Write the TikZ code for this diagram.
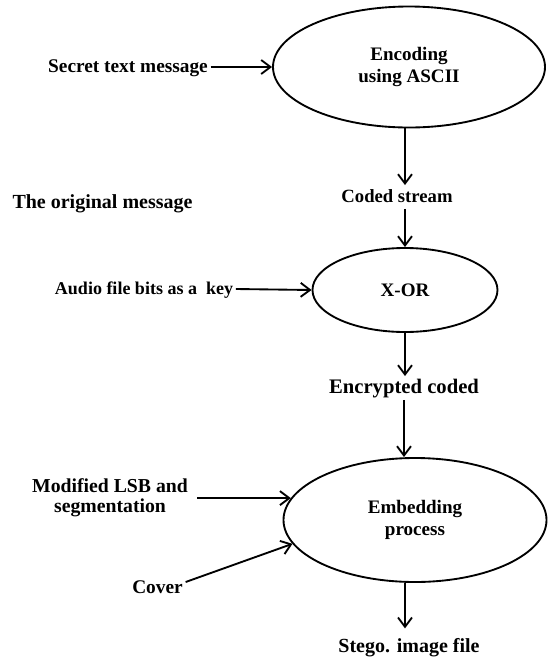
\documentclass[tikz,border=0pt]{standalone}
\usepackage{fontspec}
\setmainfont{Liberation Serif}
\usetikzlibrary{shapes.geometric,arrows.meta}
\begin{document}
\begin{tikzpicture}[x=0.75pt,y=-0.75pt,
  proc/.style={ellipse,draw,line width=1.4pt,inner sep=0pt,align=center,
    font=\bfseries\fontsize{14.3}{16.5}\selectfont},
  lbl/.style={inner sep=2pt,text height=10.5pt,text depth=3pt},
  arr/.style={line width=1.4pt,-{Straight Barb[length=7pt,width=10.5pt]}},
]
\useasboundingbox (0,0) rectangle (549,658);

% processing steps
\node[proc,minimum width=204pt,minimum height=90.75pt] (enc) at (409,67) {Encoding\\using ASCII};
\node[proc,minimum width=138.75pt,minimum height=63pt] (xor) at (405,290) {X-OR};
\node[proc,minimum width=197.25pt,minimum height=93pt] (emb) at (415,520) {Embedding\\process};

% labels
\node[lbl,font=\bfseries\fontsize{14.5}{14.5}\selectfont] (secret) at (128,67) {Secret text message};
\node[lbl,font=\bfseries\fontsize{15}{15}\selectfont] (orig) at (102.5,203) {The original message};
\node[lbl,font=\bfseries\fontsize{14}{14}\selectfont] (coded) at (397,197) {Coded stream};
\node[lbl,font=\bfseries\fontsize{13.5}{13.5}\selectfont] (audio) at (144,289) {Audio file bits as a\ \ key};
\node[lbl,font=\bfseries\fontsize{15.5}{15.5}\selectfont] (encr) at (404,388) {Encrypted coded};
\node[inner sep=2pt,align=center,font=\bfseries\fontsize{14.8}{15}\selectfont] (lsb) at (110,498) {Modified LSB and\\segmentation};
\node[lbl,font=\bfseries\fontsize{14.5}{14.5}\selectfont] (cover) at (157.5,588) {Cover};
\node[lbl,font=\bfseries\fontsize{15}{15}\selectfont] (stego) at (409,647) {Stego. image file};

% connectors
\draw[arr] (secret.east) -- (enc.west);
\draw[arr] ([xshift=-3pt]enc.south) -- ([xshift=-3pt]enc.south |- coded.north);
\draw[arr] (xor.north |- coded.south) -- (xor.north);
\draw[arr] (audio.east) -- (xor.west);
\draw[arr] (xor.south) -- (xor.south |- encr.north);
\draw[arr] (encr.south) -- (encr.south |- emb.north);
\draw[arr,shorten <=5pt] (lsb.east |- emb.170) -- (emb.170);
\draw[arr] ([yshift=4.5pt]cover.east) -- (emb.191);
\draw[arr,shorten >=5pt] ([xshift=-3pt]stego.north |- emb.south) -- ([xshift=-3pt]stego.north);
\end{tikzpicture}
\end{document}
